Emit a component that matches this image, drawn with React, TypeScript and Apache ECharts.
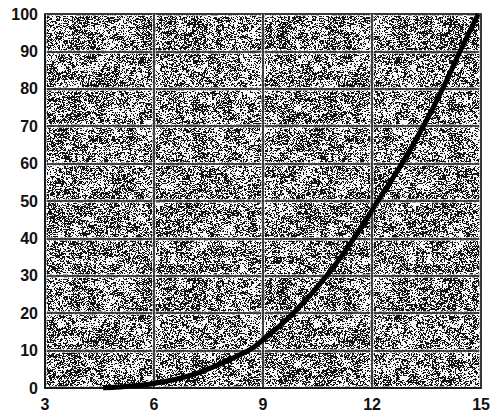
import React, { useEffect, useRef } from "react";
import * as echarts from "echarts";

const xTicks = [3, 6, 9, 12, 15];
const yTicks = [0, 10, 20, 30, 40, 50, 60, 70, 80, 90, 100];
const curveX = [4.6, 5.2, 6, 7.2, 8.6, 9, 9.83, 10.75, 11.5, 12.16, 12.82, 13.41, 13.94, 14.42, 14.92];
const curveY = [0, 0.4, 1.2, 4, 10, 12.9, 20, 30, 40, 50, 60, 70, 80, 90, 100];

function hash(x: number, y: number): number {
  let n = (x * 374761393 + y * 668265263) | 0;
  n = ((n ^ (n >>> 13)) * 1274126177) | 0;
  n = n ^ (n >>> 16);
  return (n >>> 0) / 4294967296;
}

function makeTexture(): string {
  const size = 256;
  const c = document.createElement("canvas");
  c.width = size;
  c.height = size;
  const ctx = c.getContext("2d");
  if (!ctx) return "";
  const img = ctx.createImageData(size, size);
  for (let y = 0; y < size; y++) {
    for (let x = 0; x < size; x++) {
      const v =
        (hash(x, y) * 1.2 + hash(x >> 1, y) * 0.8 + hash(x >> 3, y >> 3) * 0.5) / 2.5;
      const dark = v < 0.48;
      const i = (y * size + x) * 4;
      const g = dark ? 20 : 248;
      img.data[i] = g;
      img.data[i + 1] = g;
      img.data[i + 2] = g;
      img.data[i + 3] = 255;
    }
  }
  ctx.putImageData(img, 0, 0);
  return c.toDataURL("image/png");
}

export default function App() {
  const ref = useRef<HTMLDivElement>(null);
  useEffect(() => {
    if (!ref.current) return;
    const chart = echarts.init(ref.current, null, { renderer: "svg" });
    const tex = makeTexture();
    const labelStyle = {
      color: "#111",
      fontSize: 16,
      fontWeight: "bold" as const,
      fontFamily: "Liberation Sans, Arial, sans-serif",
    };
    const xBase = {
      type: "value" as const,
      position: "bottom" as const,
      min: xTicks[0],
      max: xTicks[xTicks.length - 1],
      interval: 3,
      axisTick: { show: false },
    };
    const yBase = {
      type: "value" as const,
      position: "left" as const,
      min: yTicks[0],
      max: yTicks[yTicks.length - 1],
      interval: 10,
      axisTick: { show: false },
    };
    chart.setOption({
      animation: false,
      backgroundColor: "#ffffff",
      grid: {
        left: 45,
        right: 7,
        top: 14,
        bottom: 24,
        show: true,
        backgroundColor: tex ? { image: tex, repeat: "repeat" } : "#777",
        borderColor: "#111",
        borderWidth: 1.5,
      },
      xAxis: [
        {
          ...xBase,
          axisLine: { show: false },
          axisLabel: { show: false },
          splitLine: { show: true, lineStyle: { color: "rgba(255,255,255,0.6)", width: 4 } },
        },
        {
          ...xBase,
          axisLine: { show: true, lineStyle: { color: "#111", width: 1.5 } },
          axisLabel: { ...labelStyle, margin: 8 },
          splitLine: { show: true, lineStyle: { color: "#111", width: 1.5 } },
        },
      ],
      yAxis: [
        {
          ...yBase,
          axisLine: { show: false },
          axisLabel: { show: false },
          splitLine: { show: true, lineStyle: { color: "rgba(255,255,255,0.6)", width: 4 } },
        },
        {
          ...yBase,
          axisLine: { show: true, lineStyle: { color: "#111", width: 1.5 } },
          axisLabel: { ...labelStyle, margin: 7 },
          splitLine: { show: true, lineStyle: { color: "#111", width: 1.5 } },
        },
      ],
      series: [
        {
          type: "line",
          xAxisIndex: 1,
          yAxisIndex: 1,
          data: curveX.map((x, i) => [x, curveY[i]]),
          showSymbol: false,
          smooth: 0.4,
          lineStyle: { color: "#000", width: 5 },
          clip: true,
        },
      ],
    });
    return () => chart.dispose();
  }, []);
  return (
    <div
      ref={ref}
      style={{ position: "fixed", left: 0, top: 0, width: 493, height: 412 }}
    />
  );
}
